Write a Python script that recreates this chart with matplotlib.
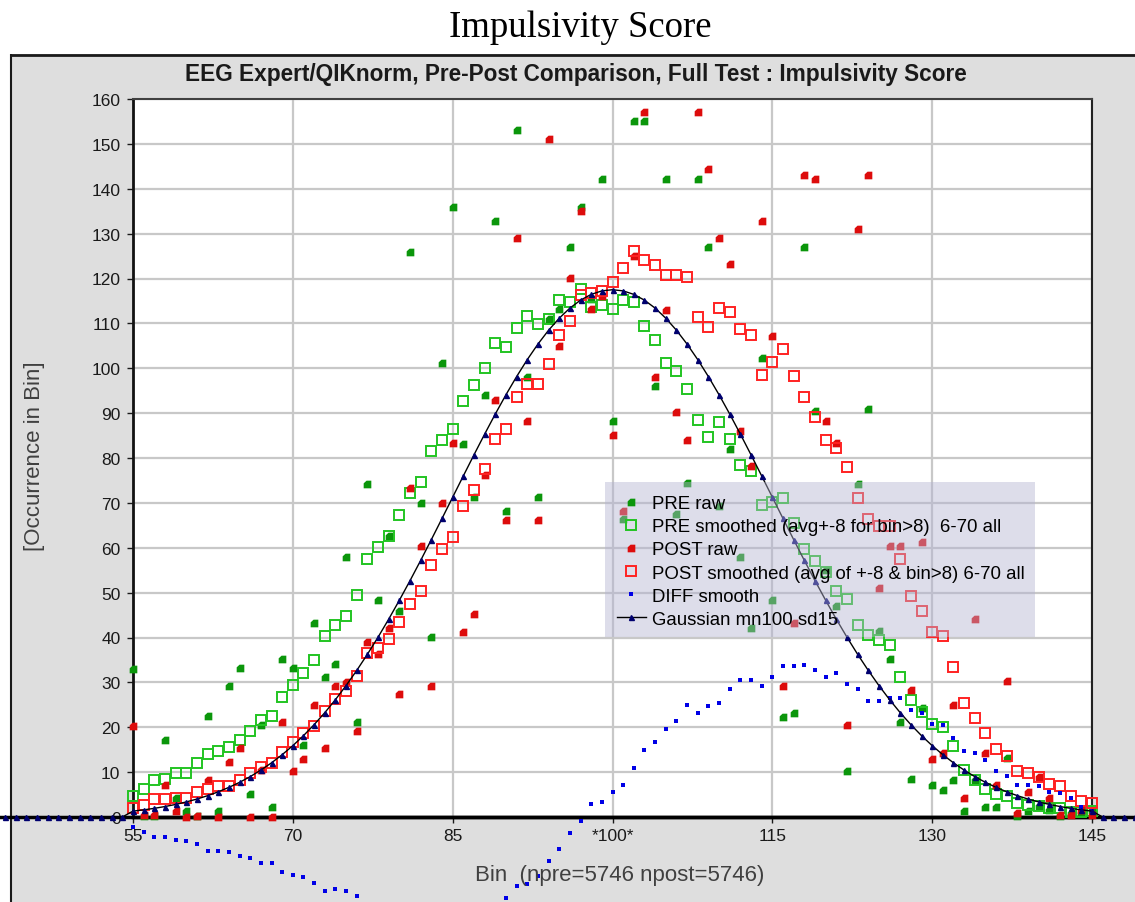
import matplotlib
matplotlib.use('Agg')  # no display
import matplotlib.pyplot as plt
from matplotlib.patches import Rectangle
from matplotlib.lines import Line2D

plt.rcParams['font.family'] = ['Liberation Sans', 'DejaVu Sans']

# ---- data ----
bins = list(range(55, 146))

pre_raw = [33.0, 0.3, 0.3, 17.2, 4.2, 1.4, 0.2, 22.4, 1.4, 29.3,
           33.1, 5.1, 20.4, 2.2, 35.1, 33.1, 16.0, 43.2, 31.2, 34.2,
           58.0, 21.1, 74.3, 48.3, 62.7, 45.9, 126.0, 70.0, 40.2, 101.1,
           136.0, 83.1, 71.2, 94.0, 132.9, 68.1, 153.1, 98.1, 71.2, 111.0,
           113.2, 127.1, 135.9, 115.4, 142.2, 88.3, 66.4, 155.0, 155.0, 96.0,
           142.2, 67.5, 74.4, 142.2, 127.1, 69.4, 82.0, 58.0, 42.1, 102.3,
           48.4, 22.3, 23.1, 127.1, 90.4, 55.0, 47.1, 10.3, 74.3, 90.9,
           41.4, 35.1, 21.1, 8.5, 24.4, 7.1, 6.1, 8.3, 1.4, 8.3,
           2.2, 2.2, 13.1, 0.3, 1.4, 2.4, 1.5, 0.3, 0.8, 0.8,
           1.6]

pre_smooth = [4.7, 6.2, 8.2, 8.5, 9.7, 9.7, 12.1, 14.0, 14.8, 15.5,
              17.1, 19.1, 21.7, 22.6, 26.8, 29.5, 32.2, 35.0, 40.3, 42.7,
              44.7, 49.4, 57.5, 60.2, 62.7, 67.2, 72.2, 74.6, 81.6, 83.9,
              86.5, 92.8, 96.3, 100.1, 105.6, 104.8, 109.0, 111.7, 109.8, 111.0,
              115.3, 114.8, 117.6, 113.7, 114.1, 113.3, 115.3, 114.8, 109.4, 106.4,
              101.2, 99.3, 95.4, 88.5, 84.6, 88.1, 84.2, 78.4, 77.2, 69.5,
              70.3, 71.1, 65.5, 59.7, 57.1, 54.5, 50.4, 48.6, 42.8, 40.5,
              39.4, 38.4, 31.1, 26.0, 23.3, 20.7, 20.1, 15.9, 10.5, 8.3,
              6.2, 5.1, 4.6, 3.1, 2.7, 2.4, 1.9, 1.9, 1.2, 1.2,
              1.3]

post_raw = [20.2, 0.5, 0.5, 7.1, 1.3, 0.0, 0.3, 8.3, 0.0, 12.3,
            15.3, 0.0, 10.5, 0.0, 21.2, 10.3, 12.9, 25.0, 15.3, 29.3,
            30.0, 19.2, 39.1, 36.3, 42.2, 27.4, 73.3, 60.3, 29.3, 70.0,
            83.3, 41.3, 45.2, 76.2, 92.9, 66.2, 129.0, 88.3, 66.2, 151.1,
            105.0, 120.1, 135.0, 113.2, 116.0, 85.1, 68.1, 125.0, 157.0, 98.0,
            113.0, 90.2, 84.0, 157.0, 144.3, 129.0, 123.2, 86.0, 78.3, 132.8,
            107.2, 29.3, 43.2, 143.0, 142.2, 88.3, 83.4, 20.4, 131.0, 143.0,
            51.0, 60.5, 60.5, 28.2, 61.2, 13.0, 14.3, 25.0, 4.2, 44.1,
            14.2, 7.2, 30.2, 1.0, 5.5, 8.9, 4.2, 0.5, 0.5, 1.6,
            0.5]

post_smooth = [1.9, 2.7, 3.9, 3.9, 4.3, 4.3, 5.5, 6.2, 7.0, 7.0,
               8.2, 9.7, 11.2, 12.0, 14.4, 16.7, 18.7, 20.3, 23.6, 26.3,
               28.0, 31.5, 36.5, 37.7, 39.7, 43.5, 47.4, 50.4, 56.2, 59.7,
               62.4, 69.2, 72.9, 77.5, 84.2, 86.5, 93.5, 96.6, 96.6, 100.9,
               107.4, 110.6, 116.3, 116.7, 117.2, 119.2, 122.3, 126.1, 124.2, 123.1,
               120.7, 120.7, 120.3, 111.4, 109.1, 113.4, 112.6, 108.7, 107.5, 98.6,
               101.3, 104.4, 98.2, 93.6, 89.2, 83.9, 82.2, 78.0, 71.0, 66.4,
               64.9, 64.9, 57.4, 49.3, 45.8, 41.2, 40.4, 33.4, 25.3, 22.1,
               18.7, 15.2, 13.7, 10.2, 9.7, 8.9, 7.4, 7.0, 4.7, 3.5,
               3.2]

diff_smooth = [-2.2, -3.4, -4.4, -4.5, -5.1, -5.3, -6.0, -7.5, -7.5, -7.9,
               -8.7, -9.1, -10.2, -10.2, -12.2, -13.0, -13.4, -14.6, -16.5, -16.1,
               -16.5, -17.6, -19.5, -21.0, -23.0, -23.7, -24.8, -24.2, -25.4, -24.2,
               -24.1, -23.6, -23.4, -22.6, -21.4, -18.1, -15.3, -14.9, -13.1, -9.9,
               -7.1, -3.6, -1.0, 2.9, 3.3, 5.6, 7.2, 11.0, 14.9, 16.8,
               19.6, 21.5, 25.0, 23.1, 24.7, 25.4, 28.5, 30.5, 30.5, 29.3,
               31.2, 33.6, 33.6, 33.9, 32.8, 31.2, 32.0, 29.6, 28.5, 25.8,
               25.8, 26.6, 26.6, 23.8, 23.1, 20.7, 20.4, 17.7, 14.6, 14.2,
               12.6, 10.3, 9.1, 7.1, 7.1, 6.8, 5.6, 5.3, 4.2, 2.3,
               1.4]

gauss_bins = list(range(43, 150))
gauss = ([0.0] * 12 +
         [1.31, 1.59, 1.93, 2.33, 2.80, 3.36, 4.00, 4.75, 5.61, 6.60,
          7.72, 9.00, 10.45, 12.07, 13.89, 15.90, 18.13, 20.58, 23.25, 26.16,
          29.30, 32.67, 36.27, 40.08, 44.10, 48.31, 52.68, 57.19, 61.82, 66.52,
          71.27, 76.01, 80.71, 85.32, 89.80, 94.09, 98.14, 101.92, 105.38, 108.47,
          111.15, 113.40, 115.17, 116.46, 117.24, 117.50,
          117.24, 116.46, 115.17, 113.40, 111.15, 108.47, 105.38, 101.92, 98.14, 94.09,
          89.80, 85.32, 80.71, 76.01, 71.27, 66.52, 61.82, 57.19, 52.68, 48.31,
          44.10, 40.08, 36.27, 32.67, 29.30, 26.16, 23.25, 20.58, 18.13, 15.90,
          13.89, 12.07, 10.45, 9.00, 7.72, 6.60, 5.61, 4.75, 4.00, 3.36,
          2.80, 2.33, 1.93, 1.59, 1.31] +
         [0.0] * 4)

xticks = [55, 70, 85, 100, 115, 130, 145]
xtick_labels = ['55', '70', '85', '*100*', '115', '130', '145']

labels = ['PRE raw',
          'PRE smoothed (avg+-8 for bin>8)  6-70 all',
          'POST raw',
          'POST smoothed (avg of +-8 & bin>8) 6-70 all',
          'DIFF smooth',
          'Gaussian mn100 sd15']

# ---- layout helpers (pixel -> figure fraction) ----
W, H = 1135, 903


def fx(px):
    return px / W


def fy(py):
    return 1 - py / H


fig = plt.figure(figsize=(W / 100, H / 100), dpi=100)
fig.patch.set_facecolor('white')

# grey chart panel with dark top/left border
fig.patches.append(Rectangle((fx(10), 0), 1 - fx(10), fy(55), transform=fig.transFigure,
                             facecolor='#dedede', edgecolor='none', zorder=-2))
fig.add_artist(Line2D([fx(10), 1], [fy(55.5), fy(55.5)], color='#1a1a1a', lw=2,
                      solid_capstyle='butt', zorder=-1))
fig.add_artist(Line2D([fx(10.5), fx(10.5)], [0, fy(55)], color='#1a1a1a', lw=1.5,
                      solid_capstyle='butt', zorder=-1))

fig.text(fx(580), fy(28), 'Impulsivity Score', family=['Liberation Serif', 'DejaVu Serif'],
         fontsize=26.5, ha='center', va='center')
fig.text(fx(576), fy(75), 'EEG Expert/QIKnorm, Pre-Post Comparison, Full Test : Impulsivity Score',
         fontsize=16.3, weight='bold', ha='center', va='center', color='#1a1a1a')

ax = fig.add_axes([fx(133), fy(818), fx(1092) - fx(133), fy(100) - fy(818)])
ax.set_facecolor('white')
ax.set_xlim(55, 145)
ax.set_ylim(0, 160)
ax.set_xticks(xticks)
ax.set_xticklabels(xtick_labels)
ax.set_yticks(range(0, 161, 10))
ax.grid(True, color='#c8c8c8', lw=1.6)
ax.set_axisbelow(True)
ax.tick_params(axis='both', direction='out', length=4, width=1, labelsize=12.5,
               colors='#1a1a1a')
ax.tick_params(axis='x', pad=4)
ax.tick_params(axis='y', pad=5)
for side, lw, col in [('left', 2, '#111111'), ('right', 1.5, '#222222'),
                      ('top', 1.5, '#404040'), ('bottom', 2.5, '#000000')]:
    ax.spines[side].set_linewidth(lw)
    ax.spines[side].set_color(col)

# zero line runs across the whole panel
ax.plot([40, 152], [0, 0], color='black', lw=2.5, clip_on=False, zorder=2.4)

raw_marker = [(-1, -1), (1, -1), (1, 1), (-0.25, 1), (-1, 0.3), (-1, -1)]

h1, = ax.plot(bins, pre_raw, ls='none', marker=raw_marker, ms=5.5, color='#0b960b',
              mew=0, clip_on=False, zorder=3)
h2, = ax.plot(bins, pre_smooth, ls='none', marker='s', ms=7.5, mfc='none',
              mec='#22c422', mew=1.4, clip_on=False, zorder=3)
h3, = ax.plot(bins, post_raw, ls='none', marker=raw_marker, ms=5.5, color='#dd0c0c',
              mew=0, clip_on=False, zorder=3)
h4, = ax.plot(bins, post_smooth, ls='none', marker='s', ms=7.5, mfc='none',
              mec='#ff2222', mew=1.4, clip_on=False, zorder=3)
h5, = ax.plot(bins, diff_smooth, ls='none', marker='s', ms=2.8, color='#0000e6',
              mew=0, clip_on=False, zorder=3)
h6, = ax.plot(gauss_bins, gauss, color='black', lw=1, marker='^', ms=3.6,
              mfc='#00006e', mec='#00006e', clip_on=False, zorder=4)

# translucent legend box
ax.add_patch(Rectangle((fx(605), fy(638)), fx(1035) - fx(605), fy(483) - fy(638),
                       transform=fig.transFigure, facecolor='#b4b4d2', alpha=0.45,
                       edgecolor='none', clip_on=False, zorder=5))
leg = ax.legend([h1, h2, h3, h4, h5, h6], labels, loc='upper left',
                bbox_to_anchor=(fx(617), fy(496)), bbox_transform=fig.transFigure,
                frameon=False, fontsize=13.4, handlelength=1.55, handletextpad=0.35,
                labelspacing=0.33, borderpad=0, borderaxespad=0, numpoints=1)
leg.set_zorder(6)

fig.text(fx(620), fy(876), 'Bin  (npre=5746 npost=5746)', fontsize=16,
         color='#404040', ha='center', va='center')
fig.text(fx(35), fy(456), '[Occurrence in Bin]', fontsize=16, rotation=90,
         color='#404040', ha='center', va='center')

fig.savefig('out.png', dpi=100)
